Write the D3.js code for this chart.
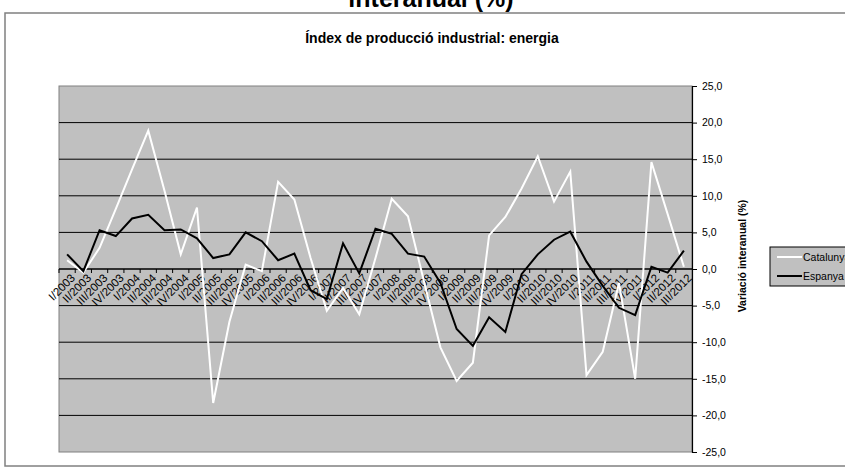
<!DOCTYPE html>
<html><head><meta charset="utf-8">
<script src="https://cdn.jsdelivr.net/npm/d3@7"></script>
<style>
html,body{margin:0;padding:0;background:#fff;}
svg{display:block;font-family:"Liberation Sans",Arial,sans-serif;}
</style></head>
<body><svg id="c" width="845" height="469"></svg>
<script>
const quarters = ["I/2003","II/2003","III/2003","IV/2003","I/2004","II/2004","III/2004","IV/2004",
"I/2005","II/2005","III/2005","IV/2005","I/2006","II/2006","III/2006","IV/2006",
"I/2007","II/2007","III/2007","IV/2007","I/2008","II/2008","III/2008","IV/2008",
"I/2009","II/2009","III/2009","IV/2009","I/2010","II/2010","III/2010","IV/2010",
"I/2011","II/2011","III/2011","IV/2011","I/2012","II/2012","III/2012"];
const catalunya = [1.2,-0.5,2.9,8.2,13.6,18.9,10.7,2.0,8.4,-18.3,-7.2,0.6,-0.3,11.9,9.5,1.5,
-5.7,-2.6,-6.2,1.5,9.6,7.2,-1.8,-10.7,-15.3,-12.8,4.6,7.1,11.0,15.4,9.2,13.3,
-14.5,-11.3,-1.9,-15.0,14.6,7.5,0.3];
const espanya = [2.0,-0.3,5.3,4.5,6.9,7.4,5.3,5.4,4.2,1.5,2.0,5.0,3.8,1.2,2.1,-2.9,
-4.1,3.5,-0.6,5.5,4.8,2.1,1.7,-1.9,-8.2,-10.5,-6.6,-8.6,-0.7,2.0,4.0,5.1,
1.0,-2.3,-5.3,-6.3,0.3,-0.5,2.5];
const yTicks = [25,20,15,10,5,0,-5,-10,-15,-20,-25];
const seriesNames = ["Catalunya","Espanya"];
const seriesColors = ["#ffffff","#000000"];
const mainTitle = "interanual (%)";
const chartTitle = "Índex de producció industrial: energia";
const yTitle = "Variació interanual (%)";

const svg = d3.select("#c");
const L = 59, R = 692, T = 86, B = 452;

svg.append("rect").attr("x",5).attr("y",13).attr("width",850).attr("height",453)
  .attr("fill","#fff").attr("stroke","#808080").attr("stroke-width",1.5);

svg.append("text").attr("x",431).attr("y",7).attr("text-anchor","middle")
  .attr("font-size",25).attr("font-weight","bold").text(mainTitle);
svg.append("text").attr("x",432).attr("y",43).attr("text-anchor","middle")
  .attr("font-size",14).attr("font-weight","bold").text(chartTitle);

const x = d3.scaleBand().domain(quarters).range([L,R]);
const y = d3.scaleLinear().domain([-25,25]).range([B,T]);
const cx = q => x(q) + x.bandwidth()/2;

svg.append("rect").attr("x",L).attr("y",T).attr("width",R-L).attr("height",B-T)
  .attr("fill","#c0c0c0").attr("stroke","#808080").attr("stroke-width",1);

svg.append("g").selectAll("line").data(yTicks.filter(d=>d>-25 && d<25)).join("line")
  .attr("x1",L).attr("x2",R).attr("y1",d=>y(d)).attr("y2",d=>y(d))
  .attr("stroke","#000").attr("stroke-width",1);

// right axis
const ya = svg.append("g").attr("transform",`translate(${R},0)`)
  .call(d3.axisRight(y).tickValues(yTicks).tickSize(5).tickPadding(5)
    .tickFormat(d=>d.toFixed(1).replace(".",",")));
ya.select(".domain").attr("stroke","#000").attr("stroke-width",1.2);
ya.selectAll("text").attr("font-size",10.5).attr("font-family","Liberation Sans, Arial, sans-serif").attr("fill","#000");

svg.append("text").attr("transform",`translate(746,256) rotate(-90)`)
  .attr("text-anchor","middle").attr("font-size",10.5).attr("font-weight","bold").text(yTitle);

// x axis at zero
const y0 = y(0);
svg.append("line").attr("x1",L).attr("x2",R).attr("y1",y0).attr("y2",y0).attr("stroke","#000").attr("stroke-width",1.2);
svg.append("g").selectAll("line").data(quarters).join("line")
  .attr("x1",d=>x(d)).attr("x2",d=>x(d)).attr("y1",y0).attr("y2",y0+4).attr("stroke","#000");
svg.append("g").selectAll("text").data(quarters).join("text")
  .attr("transform",d=>`translate(${cx(d)+3},${y0+4}) rotate(-45)`)
  .attr("text-anchor","end").attr("dy","0.7em").attr("font-size",11.5).text(d=>d);

// lines
const line = vals => d3.line().x((d,i)=>cx(quarters[i])).y(d=>y(d))(vals);
[catalunya, espanya].forEach((vals,k)=>{
  svg.append("path").attr("d",line(vals)).attr("fill","none")
    .attr("stroke",seriesColors[k]).attr("stroke-width",2).attr("stroke-linejoin","miter");
});

// legend
svg.append("rect").attr("x",770).attr("y",247).attr("width",90).attr("height",39)
  .attr("fill","#c0c0c0").attr("stroke","#000").attr("stroke-width",1);
const lg = svg.append("g").selectAll("g").data(seriesNames).join("g")
  .attr("transform",(d,i)=>`translate(777,${257+i*19})`);
lg.append("line").attr("x1",0).attr("x2",25).attr("stroke",(d,i)=>seriesColors[i]).attr("stroke-width",2);
lg.append("text").attr("x",26).attr("dy","0.35em").attr("font-size",10.5).text(d=>d);
</script></body></html>
